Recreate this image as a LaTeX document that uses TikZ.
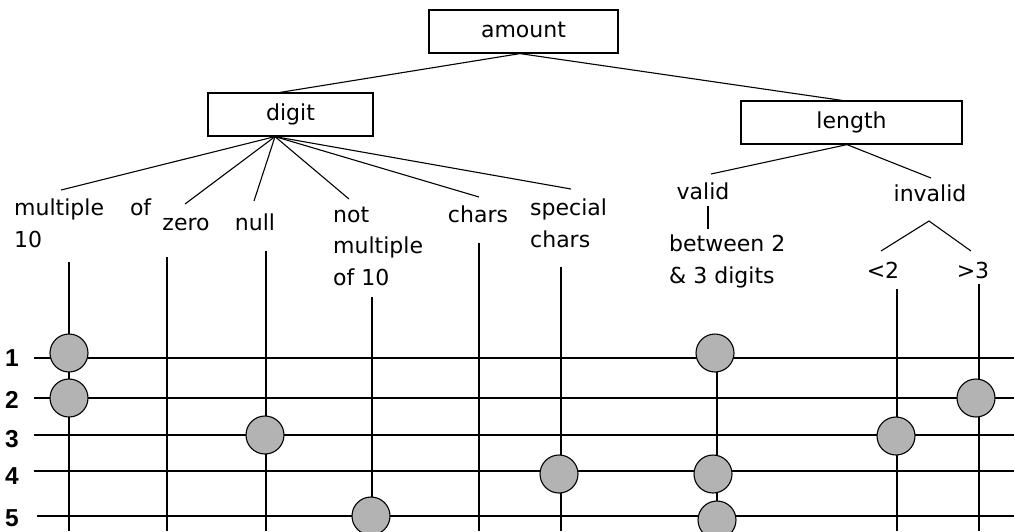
\documentclass[tikz,border=0pt]{standalone}
\usepackage{fontspec}
\setmainfont{DejaVu Sans}
\newfontfamily\numfont{Liberation Sans}
\definecolor{circfill}{RGB}{179,179,179}
\begin{document}
\begin{tikzpicture}[x=1pt,y=-1pt,
  every node/.style={inner sep=0pt,font=\fontsize{22}{31.5}\selectfont},
  box/.style={draw,line width=1.2pt,minimum height=43pt,text height=16.5pt,text depth=4.5pt},
  lab/.style={anchor=base},
  mlab/.style={align=left,anchor=base west},
  num/.style={anchor=base,font={\numfont\bfseries\fontsize{24.5}{28}\selectfont}},
  ln/.style={line width=1.1pt},
  dot/.style={circle,draw,line width=1.1pt,fill=circfill,minimum size=38pt}]
\useasboundingbox (0,0) rectangle (1014,531);
% tree boxes
\node[box,minimum width=189pt] (amount) at (523.5,31.5) {amount};
\node[box,minimum width=165pt] (digit) at (290.5,114.5) {digit};
\node[box,minimum width=221pt] (length) at (851.5,122.5) {length};
\draw[ln] ([xshift=-3.5pt]amount.south) -- ([xshift=-10.5pt]digit.north);
\draw[ln] ([xshift=-3.5pt]amount.south) -- ([xshift=-9.5pt]length.north);
% leaf labels (base anchor = last line)
\node[mlab] (m10) at (14,247) {multiple\hspace*{19pt} of\\10};
\node[lab] (zero) at (186,230) {zero};
\node[lab] (null) at (255,230) {null};
\node[mlab] (notm) at (333,285) {not\\multiple\\of 10};
\node[lab] (chars) at (478,222) {chars};
\node[mlab] (spec) at (530,247) {special\\chars};
\node[lab] (valid) at (703,199) {valid};
\node[lab] (invalid) at (930,201) {invalid};
\node[mlab] (betw) at (669,283) {between 2\\\& 3 digits};
\node[lab] (lt2) at (883,278) {<2};
\node[lab] (gt3) at (973,278) {>3};
% connector ends
\coordinate (dj) at ([xshift=-15.5pt]digit.south);
\coordinate (lj) at ([xshift=-4.5pt]length.south);
\coordinate (e1) at (61,190);
\coordinate (e2) at (185,204);
\coordinate (e3) at (254,201);
\coordinate (e4) at (349,199);
\coordinate (e5) at (479,197);
\coordinate (e6) at (571,189);
\coordinate (ev) at (711,174);
\coordinate (ei) at (931,178);
\coordinate (va) at (708,206);
\coordinate (vb) at (708,229);
\coordinate (apex) at (929,221);
\coordinate (il) at (881,251);
\coordinate (ir) at (971,251);
\foreach \e in {e1,e2,e3,e4,e5,e6} \draw[ln] (dj) -- (\e);
\draw[ln] (lj) -- (ev);
\draw[ln] (lj) -- (ei);
\draw[ln] (va) -- (vb);
\draw[ln] (il) -- (apex) -- (ir);
% rows
\coordinate (r1a) at (34,358); \coordinate (r1b) at (1014,358);
\coordinate (r2a) at (34,398); \coordinate (r2b) at (1014,398);
\coordinate (r3a) at (34,435); \coordinate (r3b) at (1014,435);
\coordinate (r4a) at (34,471); \coordinate (r4b) at (1014,471);
\coordinate (r5a) at (37,516); \coordinate (r5b) at (1014,516);
\foreach \r in {1,...,5} \draw[ln] (r\r a) -- (r\r b);
\node[num] (n1) at (12,366) {1};
\node[num] (n2) at (12,408) {2};
\node[num] (n3) at (12,447) {3};
\node[num] (n4) at (12,484) {4};
\node[num] (n5) at (12,526) {5};
% columns
\coordinate (k1) at (69,262);  \coordinate (k1b) at (69,531);
\coordinate (k2) at (167,257); \coordinate (k2b) at (167,531);
\coordinate (k3) at (266,251); \coordinate (k3b) at (266,531);
\coordinate (k4) at (372,297); \coordinate (k4b) at (372,531);
\coordinate (k5) at (479,243); \coordinate (k5b) at (479,531);
\coordinate (k6) at (561,267); \coordinate (k6b) at (561,531);
\coordinate (k7) at (717,353); \coordinate (k7b) at (717,520);
\coordinate (k8) at (897,289); \coordinate (k8b) at (897,531);
\coordinate (k9) at (979,284); \coordinate (k9b) at (979,531);
\foreach \k in {1,2,3,4,5,6,7,8,9} \draw[ln] (k\k) -- (k\k b);
% circles
\node[dot] (c11) at (69,353) {};
\node[dot] (c12) at (69,398) {};
\node[dot] (c33) at (265,435) {};
\node[dot] (c45) at (371,516) {};
\node[dot] (c64) at (559,474) {};
\node[dot] (c71) at (715,353) {};
\node[dot] (c74) at (713,474) {};
\node[dot] (c75) at (717,520) {};
\node[dot] (c83) at (896,436) {};
\node[dot] (c92) at (976,398) {};
\end{tikzpicture}
\end{document}
